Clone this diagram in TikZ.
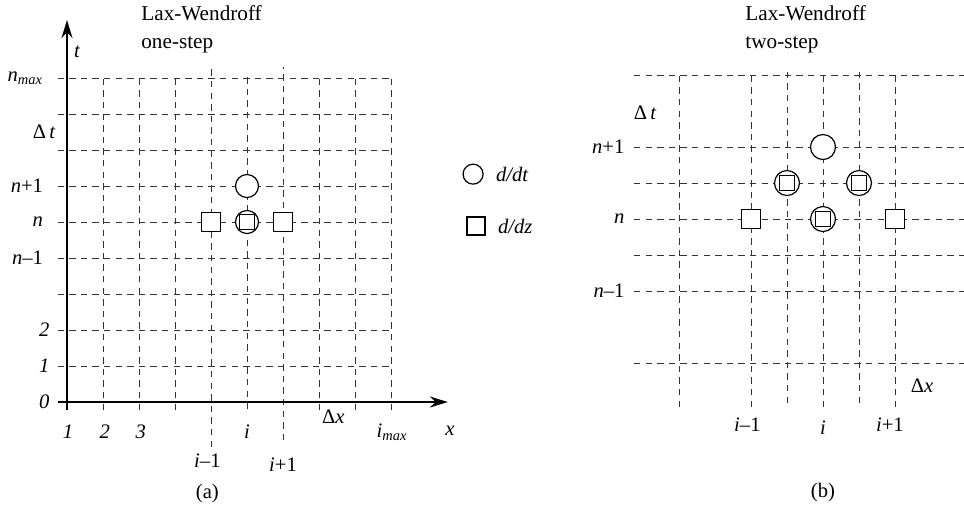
\documentclass[tikz,border=0pt]{standalone}
\usepackage{fontspec}
\setmainfont{Liberation Serif}
\usetikzlibrary{arrows.meta,positioning}
\tikzset{
  gridline/.style={draw=black!80,line width=0.45pt,dash pattern=on 3.2pt off 2.6pt},
  axisline/.style={draw=black,line width=0.9pt,-{Stealth[length=9pt,width=5.5pt]}},
  ddt/.style={draw,circle,fill=white,minimum size=11.5pt,inner sep=0pt,line width=0.6pt},
  ddz/.style={draw,rectangle,fill=white,minimum size=9.5pt,inner sep=0pt,line width=0.7pt},
  ddzin/.style={ddz,minimum size=7.5pt},
  lbl/.style={inner sep=1pt,font=\fontsize{10.3}{12}\selectfont},
  title/.style={lbl,align=left,font=\fontsize{10.6}{14}\selectfont}
}
\begin{document}
\begin{tikzpicture}[x=18pt,y=18pt]
  \useasboundingbox (-1.861,-2.917) rectangle (24.917,11.167);
  % (a) one-step
  \foreach \r in {1,...,9}
    \draw[gridline] (-0.26,\r) -- (9.08,\r);
  \foreach \c in {1,2,3,7,8,9}
    \draw[gridline] (\c,-0.22) -- (\c,9.1);
  \draw[gridline] (4,-1.25) -- (4,9.3);
  \draw[gridline] (5,-0.18) -- (5,9.1);
  \draw[gridline] (6,-1.06) -- (6,9.3);
  \draw[axisline] (0,-0.22) -- (0,10.61);
  \draw[axisline] (-0.26,0) -- (10.58,0);
  \node[title,anchor=west] (ttla) at (2.0,10.36) {Lax-Wendroff\\one-step};
  \node[lbl] (tlab) at (0.28,9.72) {\textit{t}};
  \node[lbl,anchor=east] (nmax) at (-0.6,9) {\textit{n}\textsubscript{\textit{max}}};
  \node[lbl,anchor=east] (dta) at (-0.25,7.5) {Δ\,\textit{t}};
  \node[lbl,anchor=east] (npa) at (-0.6,6) {\textit{n}+1};
  \node[lbl,anchor=east] (na) at (-0.6,5) {\textit{n}};
  \node[lbl,anchor=east] (nma) at (-0.6,4) {\textit{n}–1};
  \node[lbl,anchor=east] (rtwo) at (-0.42,2) {\textit{2}};
  \node[lbl,anchor=east] (rone) at (-0.42,1) {\textit{1}};
  \node[lbl,anchor=east] (rzero) at (-0.42,0) {\textit{0}};
  \node[lbl] (cone) at (0.03,-0.83) {\textit{1}};
  \node[lbl] (ctwo) at (1.05,-0.83) {\textit{2}};
  \node[lbl] (cthree) at (2.05,-0.83) {\textit{3}};
  \node[lbl] (ia) at (5,-0.83) {\textit{i}};
  \node[lbl] (imax) at (9.03,-0.83) {\textit{i}\textsubscript{\textit{max}}};
  \node[lbl] (xlab) at (10.64,-0.8) {\textit{x}};
  \node[lbl] (dxa) at (7.4,-0.42) {Δ\textit{x}};
  \node[lbl] (ima) at (3.9,-1.64) {\textit{i}–1};
  \node[lbl] (ipa) at (6.0,-1.75) {\textit{i}+1};
  \node[lbl] (capa) at (3.9,-2.55) {(a)};
  \node[ddt] (ca1) at (5,6) {};
  \node[ddt] (ca2) at (5,5) {};
  \node[ddzin] (sa2) at (ca2) {};
  \node[ddz] (sa1) at (4,5) {};
  \node[ddz] (sa3) at (6,5) {};
  % legend
  \node[ddt,minimum size=10pt] (legc) at (11.28,6.33) {};
  \node[lbl,right=5pt of legc] (legct) {\textit{d/dt}};
  \node[ddz,minimum size=9pt] (legs) at (11.36,4.89) {};
  \node[lbl,right=5pt of legs] (legst) {\textit{d/dz}};
  % (b) two-step
  \begin{scope}[shift={(21,5.083)}]
    \foreach \r in {4,2,1,0,-1,-2,-4}
      \draw[gridline] (-5.25,\r) -- (3.92,\r);
    \foreach \c in {-4,-2,0,2}
      \draw[gridline] (\c,-5.22) -- (\c,4.11);
    \foreach \c in {-1,1}
      \draw[gridline] (\c,-5.11) -- (\c,4.22);
    \node[title,anchor=west] (ttlb) at (-2.22,5.28) {Lax-Wendroff\\two-step};
    \node[lbl] (dtb) at (-4.94,2.94) {Δ\,\textit{t}};
    \node[lbl,anchor=east] (npb) at (-5.45,2) {\textit{n}+1};
    \node[lbl,anchor=east] (nb) at (-5.45,0) {\textit{n}};
    \node[lbl,anchor=east] (nmb) at (-5.45,-2) {\textit{n}–1};
    \node[lbl] (dxb) at (2.75,-4.64) {Δ\textit{x}};
    \node[lbl] (imb) at (-2.1,-5.72) {\textit{i}–1};
    \node[lbl] (ib) at (0,-5.8) {\textit{i}};
    \node[lbl] (ipb) at (1.86,-5.72) {\textit{i}+1};
    \node[lbl] (capb) at (0,-7.61) {(b)};
    \node[ddt,minimum size=12.5pt] (cb1) at (0,2) {};
    \foreach \p/\q in {cb2/{-1,1},cb3/{1,1},cb4/{0,0}} {
      \node[ddt,minimum size=12.5pt] (\p) at (\q) {};
      \node[ddzin] at (\p) {};
    }
    \node[ddz] (sb1) at (-2,0) {};
    \node[ddz] (sb2) at (2,0) {};
  \end{scope}
\end{tikzpicture}
\end{document}
